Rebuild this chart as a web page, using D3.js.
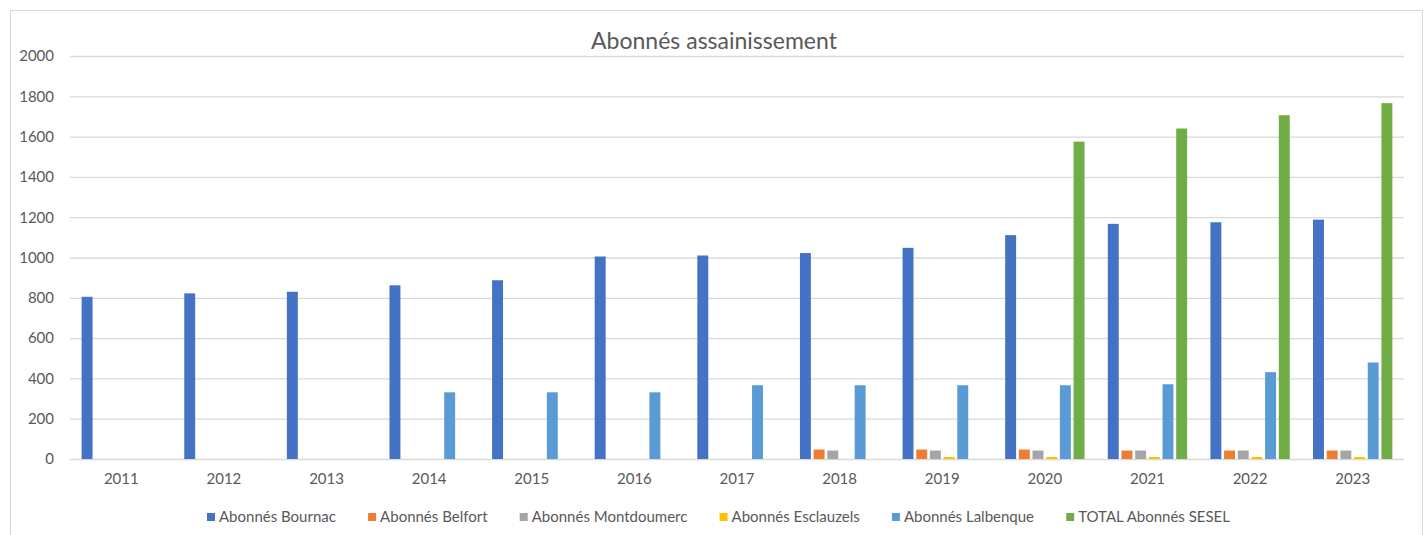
<!DOCTYPE html>
<html>
<head>
<meta charset="utf-8">
<script src="https://cdn.jsdelivr.net/npm/d3@7"></script>
<style>
    body { margin: 0; background: #fff; }
    svg { display: block; font-family: Lato, "Open Sans", sans-serif; }
    .grid line { stroke: #d9d9d9; stroke-width: 1.3; }
    .axis text { fill: #595959; font-size: 15px; }
    .legend text { fill: #595959; font-size: 15px; }
</style>
</head>
<body>
<div id="chart"></div>
<script>
// Data
var years = ['2011', '2012', '2013', '2014', '2015', '2016', '2017', '2018', '2019', '2020', '2021', '2022', '2023'];
var seriesNames = ['Abonnés Bournac', 'Abonnés Belfort', 'Abonnés Montdoumerc', 'Abonnés Esclauzels', 'Abonnés Lalbenque', 'TOTAL Abonnés SESEL'];
var bournac = [805, 822, 830, 862, 887, 1005, 1010, 1022, 1048, 1111, 1167, 1175, 1188];
var belfort = [0, 0, 0, 0, 0, 0, 0, 47, 47, 47, 42, 42, 42];
var montdoumerc = [0, 0, 0, 0, 0, 0, 0, 42, 42, 42, 42, 42, 42];
var esclauzels = [0, 0, 0, 0, 0, 0, 0, 0, 10, 10, 10, 10, 10];
var lalbenque = [0, 0, 0, 331, 331, 331, 366, 366, 366, 366, 371, 431, 479];
var totalSesel = [0, 0, 0, 0, 0, 0, 0, 0, 0, 1575, 1640, 1706, 1766];
var yTicks = [0, 200, 400, 600, 800, 1000, 1200, 1400, 1600, 1800, 2000];

var colors = ['#4472c4', '#ed7d31', '#a5a5a5', '#ffc000', '#5b9bd5', '#70ad47'];

var width = 1424,
    height = 535,
    margin = { left: 70, right: 20, top: 56, bottom: 76 };

var chartWidth = width - margin.left - margin.right;
var chartHeight = height - margin.top - margin.bottom;

// build rows for the data-join
var allSeries = [bournac, belfort, montdoumerc, esclauzels, lalbenque, totalSesel];
var rows = years.map(function(y, i) {
    return {
        year: y,
        values: seriesNames.map(function(s, j) { return { key: s, value: allSeries[j][i] }; })
    };
});

var svg = d3.select('#chart').append('svg')
    .attr('width', width)
    .attr('height', height)
    .attr('viewBox', '0 0 ' + width + ' ' + height);

// outer frame
svg.append('rect')
    .attr('x', 10.5).attr('y', 10.5)
    .attr('width', 1412).attr('height', 540)
    .attr('fill', 'none')
    .attr('stroke', '#d9d9d9');

// title
svg.append('text')
    .attr('x', 714)
    .attr('y', 49)
    .attr('text-anchor', 'middle')
    .attr('fill', '#595959')
    .style('font-size', '23px')
    .text('Abonnés assainissement');

var x0 = d3.scaleBand()
    .domain(years)
    .range([0, chartWidth])
    .paddingInner(0.2)
    .paddingOuter(0.1);

var x1 = d3.scaleBand()
    .domain(seriesNames)
    .range([0, x0.bandwidth()])
    .paddingInner(0.2)
    .paddingOuter(0.1);

var yScale = d3.scaleLinear()
    .domain([0, 2000])
    .range([chartHeight, 0]);

var g = svg.append('g')
    .attr('transform', 'translate(' + margin.left + ',' + margin.top + ')');

// gridlines
g.append('g')
    .attr('class', 'grid')
    .call(d3.axisLeft(yScale).tickValues(yTicks).tickSize(-chartWidth).tickFormat(''))
    .call(function(s) { s.select('.domain').remove(); });

// y axis labels
var yAxis = d3.axisLeft(yScale).tickValues(yTicks).tickSize(0).tickPadding(16).tickFormat(d3.format('d'));
g.append('g')
    .attr('class', 'axis y')
    .call(yAxis)
    .call(function(s) { s.select('.domain').remove(); });

// x axis labels
var xAxis = d3.axisBottom(x0).tickSize(0).tickPadding(14);
g.append('g')
    .attr('class', 'axis x')
    .attr('transform', 'translate(0,' + chartHeight + ')')
    .call(xAxis)
    .call(function(s) { s.select('.domain').remove(); });

d3.selectAll('.axis text').style('font-family', 'Lato, sans-serif');

// bars
var groups = g.selectAll('.year')
    .data(rows)
    .enter().append('g')
    .attr('class', 'year')
    .attr('transform', function(d) { return 'translate(' + x0(d.year) + ',0)'; });

groups.selectAll('rect')
    .data(function(d) { return d.values; })
    .enter().append('rect')
    .attr('x', function(d) { return x1(d.key); })
    .attr('width', x1.bandwidth())
    .attr('y', function(d) { return yScale(d.value); })
    .attr('height', function(d) { return chartHeight - yScale(d.value); })
    .attr('fill', function(d, i) { return colors[i]; });

// legend
var legend = svg.append('g').attr('class', 'legend');
var items = legend.selectAll('g')
    .data(seriesNames)
    .enter().append('g');

items.append('rect')
    .attr('width', 8)
    .attr('height', 8)
    .attr('y', -9)
    .attr('fill', function(d, i) { return colors[i]; });

items.append('text')
    .attr('x', 12)
    .text(function(d) { return d; });

// spread the legend entries between x=207 and x=1230
var legendStart = 207, legendEnd = 1230;
var widths = [];
items.each(function() {
    widths.push(12 + d3.select(this).select('text').node().getComputedTextLength());
});
var gap = (legendEnd - legendStart - d3.sum(widths)) / (widths.length - 1);
var offsets = [], xPos = 0;
widths.forEach(function(w) { offsets.push(xPos); xPos += w + gap; });
items.attr('transform', function(d, i) { return 'translate(' + offsets[i] + ',0)'; });
legend.attr('transform', 'translate(' + legendStart + ',522)');
</script>
</body>
</html>
